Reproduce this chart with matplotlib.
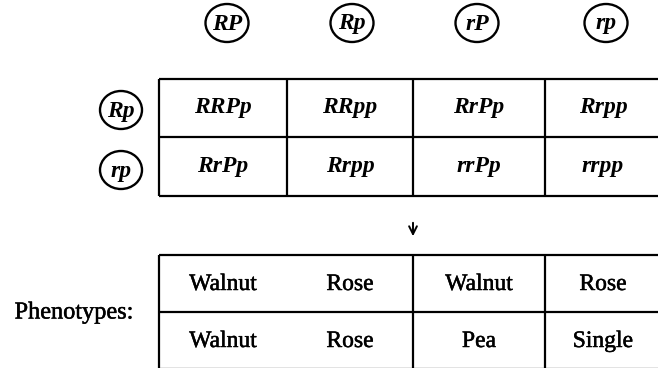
import matplotlib
matplotlib.use("Agg")
import matplotlib.pyplot as plt
from matplotlib.patches import Ellipse
import matplotlib.patheffects as pe

# ---- data ----
col_gametes = ["RP", "Rp", "rP", "rp"]
row_gametes = ["Rp", "rp"]
genotypes = [["RRPp", "RRpp", "RrPp", "Rrpp"],
             ["RrPp", "Rrpp", "rrPp", "rrpp"]]
phenotypes = [["Walnut", "Rose", "Walnut", "Rose"],
              ["Walnut", "Rose", "Pea", "Single"]]
phenotype_label = "Phenotypes:"

W, H = 658, 368
fig = plt.figure(figsize=(W / 100, H / 100), dpi=100)
ax = fig.add_axes([0, 0, 1, 1])
ax.set_xlim(0, W)
ax.set_ylim(H, 0)
ax.axis("off")

serif = ["Liberation Serif", "DejaVu Serif"]
thick = [pe.withStroke(linewidth=0.35, foreground="black")]
lw = 1.6
col_edges = [159, 287, 413, 545, 660]
col_centers = [(col_edges[i] + col_edges[i + 1]) / 2 for i in range(4)]
col_centers[3] = 603

# header gamete circles
header_x = [227, 352, 477, 606]
for x, g in zip(header_x, col_gametes):
    ax.add_patch(Ellipse((x, 23), 43, 38, fill=False, lw=1.7, color="black"))
    ax.text(x, 24, g, ha="center", va="center", fontsize=17, fontstyle="italic",
            fontweight="bold", family=serif)

# top grid
top_rows = [79, 137, 196]
for y in top_rows:
    ax.plot([col_edges[0], col_edges[-1]], [y, y], color="black", lw=lw, solid_capstyle="butt")
for x in col_edges[:-1]:
    ax.plot([x, x], [top_rows[0], top_rows[-1]], color="black", lw=lw, solid_capstyle="butt")

row_label_y = [110, 170]
for r, g in enumerate(row_gametes):
    ax.add_patch(Ellipse((121, row_label_y[r]), 42, 38, fill=False, lw=1.7, color="black"))
    ax.text(121, row_label_y[r] + 1, g, ha="center", va="center", fontsize=17,
            fontstyle="italic", fontweight="bold", family=serif)
    yc = (top_rows[r] + top_rows[r + 1]) / 2
    for c in range(4):
        ax.text(col_centers[c], yc, genotypes[r][c], ha="center", va="center",
                fontsize=17, fontstyle="italic", fontweight="bold", family=serif)

# arrow
ax.annotate("", xy=(413, 239), xytext=(413, 220),
            arrowprops=dict(arrowstyle="->", lw=1.4, color="black", mutation_scale=14))

# bottom grid
bot_rows = [255, 312, 369]
for y in bot_rows:
    ax.plot([col_edges[0], col_edges[-1]], [y, y], color="black", lw=lw, solid_capstyle="butt")
for x in [col_edges[0], col_edges[2], col_edges[3]]:
    ax.plot([x, x], [bot_rows[0], bot_rows[-1]], color="black", lw=lw, solid_capstyle="butt")
for r in range(2):
    yc = (bot_rows[r] + bot_rows[r + 1]) / 2 + 1
    for c in range(4):
        ax.text(col_centers[c], yc, phenotypes[r][c], ha="center", va="center",
                fontsize=17, family=serif, path_effects=thick)

ax.text(74, 313, phenotype_label, ha="center", va="center", fontsize=17.5, family=serif,
        path_effects=thick)

fig.savefig("out.png", dpi=100)
